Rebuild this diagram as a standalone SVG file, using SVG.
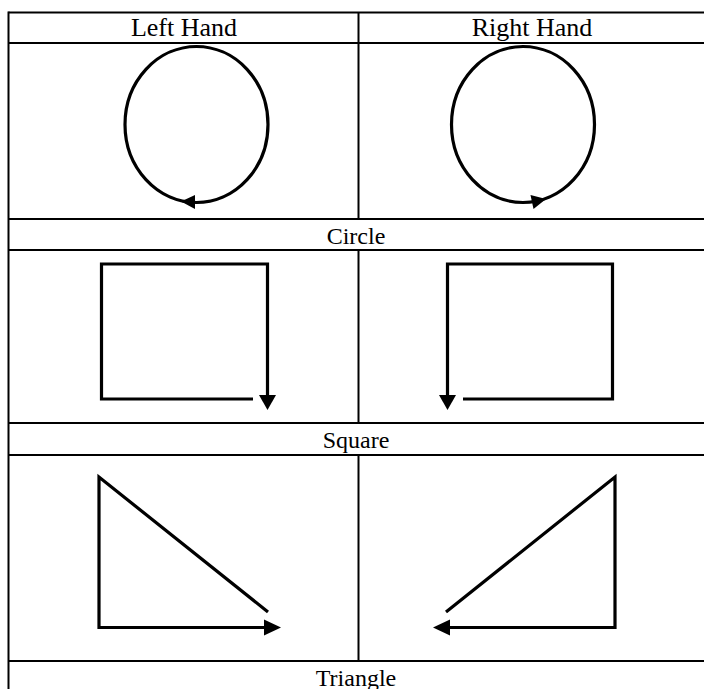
<svg xmlns="http://www.w3.org/2000/svg" width="704" height="689" viewBox="0 0 704 689">
<style>
.grid{stroke:#000;stroke-width:2;fill:none}
.shape{stroke:#000;stroke-width:3.2;fill:none;stroke-linecap:butt;stroke-linejoin:miter}
.head{fill:#000;stroke:none}
.lbl{font-family:"Liberation Serif","Times New Roman",serif;font-size:24px;fill:#000;text-anchor:middle}
.hdr{font-size:26px}
</style>
<rect width="704" height="689" fill="#fff"/>
<g id="table">
<line class="grid" x1="8.5" y1="12.5" x2="704" y2="12.5"/>
<line class="grid" x1="8.5" y1="43" x2="704" y2="43"/>
<line class="grid" x1="8.5" y1="219" x2="704" y2="219"/>
<line class="grid" x1="8.5" y1="250" x2="704" y2="250"/>
<line class="grid" x1="8.5" y1="423" x2="704" y2="423"/>
<line class="grid" x1="8.5" y1="455" x2="704" y2="455"/>
<line class="grid" x1="8.5" y1="661" x2="704" y2="661"/>
<line class="grid" x1="8.5" y1="11.5" x2="8.5" y2="689"/>
<line class="grid" x1="358.5" y1="12.5" x2="358.5" y2="219"/>
<line class="grid" x1="358.5" y1="250" x2="358.5" y2="423"/>
<line class="grid" x1="358.5" y1="455" x2="358.5" y2="661"/>
</g>
<g id="labels">
<text class="lbl hdr" x="184" y="36">Left Hand</text>
<text class="lbl hdr" x="532" y="36">Right Hand</text>
<text class="lbl" x="356" y="244">Circle</text>
<text class="lbl" x="356" y="448">Square</text>
<text class="lbl" x="356" y="686">Triangle</text>
</g>
<g id="left-circle">
<ellipse class="shape" cx="196.5" cy="124.5" rx="71.5" ry="78"/>
<polygon class="head" points="181,201.5 195,195 195,209"/>
</g>
<g id="right-circle">
<ellipse class="shape" cx="523" cy="124.5" rx="71.5" ry="78"/>
<polygon class="head" points="546,199 530.5,195 533.5,209"/>
</g>
<g id="left-square">
<polyline class="shape" points="253,399 101.5,399 101.5,264 267.5,264 267.5,396"/>
<polygon class="head" points="259,395 276,395 267.5,410"/>
</g>
<g id="right-square">
<polyline class="shape" points="463,399 612.5,399 612.5,264 447.5,264 447.5,396"/>
<polygon class="head" points="439,395 456,395 447.5,410"/>
</g>
<g id="left-triangle">
<polyline class="shape" points="268,612 99,477 99,627.5 266,627.5"/>
<polygon class="head" points="264,619.5 264,635.5 281,627.5"/>
</g>
<g id="right-triangle">
<polyline class="shape" points="446,612 615,477 615,627.5 448,627.5"/>
<polygon class="head" points="450,619.5 450,635.5 433,627.5"/>
</g>
</svg>
